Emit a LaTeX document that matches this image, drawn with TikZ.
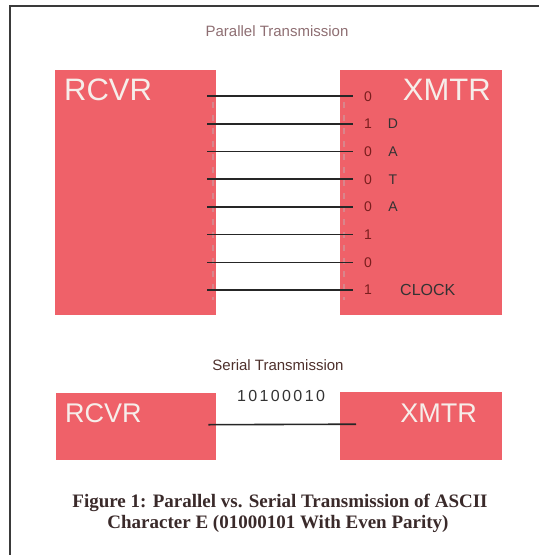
\documentclass[tikz,border=0pt]{standalone}
\usepackage{fontspec}
\setmainfont{Liberation Serif}
\setsansfont{Liberation Sans}
\usetikzlibrary{positioning,calc}
\definecolor{boxred}{HTML}{EF6169}
\definecolor{boxtext}{HTML}{F6EEEA}
\definecolor{bitred}{HTML}{7A1E1E}
\definecolor{mauve}{HTML}{8E6E72}
\definecolor{brownish}{HTML}{4E302C}
\definecolor{framegray}{HTML}{3A3A3A}
\definecolor{tickpink}{HTML}{D9858B}
\definecolor{captionink}{HTML}{3A2A2A}

\tikzset{
  unitbox/.style={fill=boxred, draw=none, anchor=north west, inner sep=0pt},
  unitname/.style={text=boxtext, font=\sffamily\fontsize{31}{31}\selectfont, inner sep=0pt},
  bitlabel/.style={text=bitred, font=\sffamily\fontsize{14}{14}\selectfont, inner sep=0pt, anchor=base},
  datalabel/.style={text=black!80, font=\sffamily\fontsize{14}{14}\selectfont, inner sep=0pt, anchor=base},
  wire/.style={draw=black!85, line width=1.6pt},
}

\begin{document}
\begin{tikzpicture}[x=1pt,y=-1pt]
    \useasboundingbox (0,0) rectangle (539,555);
    % Frame
    \draw[framegray, line width=2pt] (10,555) -- (10,6) -- (539,6);

    % Parallel transmission
    \node[font=\sffamily\fontsize{15}{15}\selectfont, text=mauve] (ptitle) at (277,31) {Parallel Transmission};
    \node[unitbox, minimum width=161pt, minimum height=245pt] (prcvr) at (55,70) {};
    \node[unitbox, minimum width=162pt, minimum height=245pt] (pxmtr) at (340,70) {};
    \node[unitname, anchor=base west] (prcvrname) at (64,100) {RCVR};
    \node[unitname, anchor=base east] (pxmtrname) at (491,100) {XMTR};
    \draw[tickpink, line width=2pt, dash pattern=on 6pt off 7pt] (213,102) -- (213,300);
    \draw[tickpink, line width=2pt, dash pattern=on 6pt off 7pt] (344,102) -- (344,300);
    \foreach \b [count=\i from 0] in {0,1,0,0,0,1,0,1} {
        \node[bitlabel] (bit\i) at (368,{101+27.7*\i}) {\b};
        \draw[wire] ($(bit\i.west)+(-11,0)$) -- ($(bit\i.west -| prcvr.east)+(-9,0)$);
    }
    \foreach \l [count=\i from 1] in {D,A,T,A}
        \node[datalabel] (data\i) at (393,{101+27.7*\i}) {\l};
    \node[datalabel, anchor=base west, font=\sffamily\fontsize{16}{16}\selectfont] (clock) at (400,295) {CLOCK};

    % Serial transmission
    \node[font=\sffamily\fontsize{15}{15}\selectfont, text=brownish] (stitle) at (278,365) {Serial Transmission};
    \node[font=\sffamily\fontsize{16}{16}\selectfont\addfontfeature{LetterSpace=15}, text=black!80] (sbits) at (281,396) {10100010};
    \node[unitbox, minimum width=160pt, minimum height=67pt] (srcvr) at (56,393) {};
    \node[unitbox, minimum width=162pt, minimum height=68pt] (sxmtr) at (340,392) {};
    \node[unitname, anchor=base west, font=\sffamily\fontsize{27}{27}\selectfont] (srcvrname) at (65,422) {RCVR};
    \node[unitname, anchor=base east, font=\sffamily\fontsize{27}{27}\selectfont] (sxmtrname) at (477,422) {XMTR};
    \draw[wire] ($(srcvr.east)+(-8,-2)$) -- ($(sxmtr.west)+(16,-2)$);

    % Caption
    \node[font=\bfseries\fontsize{19}{19}\selectfont, text=captionink, anchor=base] (cap1) at (280,507) {Figure 1: Parallel vs. Serial Transmission of ASCII};
    \node[font=\bfseries\fontsize{19}{19}\selectfont, text=captionink, anchor=base] (cap2) at (278,528) {Character E (01000101 With Even Parity)};
\end{tikzpicture}
\end{document}
